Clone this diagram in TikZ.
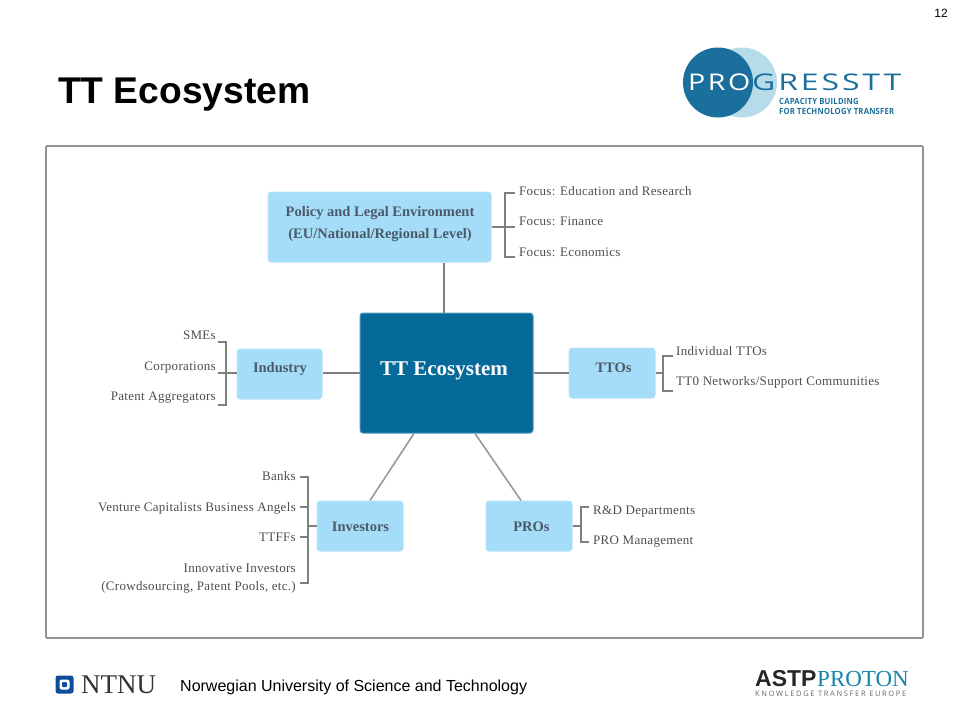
\documentclass[tikz,border=0pt]{standalone}
\usepackage{graphicx}
\usepackage{fontspec}
\setmainfont{Liberation Serif}
\newfontfamily\arialfont{Liberation Sans}
\newfontfamily\labelfont[LetterSpace=2.4]{Liberation Serif}
\newfontfamily\logofont[LetterSpace=9]{Open Sans}
\newfontfamily\smallogofont[LetterSpace=3]{Open Sans}
\newfontfamily\knowfont[LetterSpace=22]{Open Sans}
\definecolor{boxblue}{HTML}{A5DCF8}
\definecolor{hubblue}{HTML}{05699A}
\definecolor{boxtext}{HTML}{4A5A68}
\definecolor{labeltext}{HTML}{4D4D4D}
\definecolor{linegrey}{HTML}{7F7F7F}
\definecolor{logoblue}{HTML}{1B6F9C}
\definecolor{logolight}{HTML}{B7DCE9}
\definecolor{ntnublue}{HTML}{0F4C9A}
\tikzset{
  topicbox/.style={shape=rectangle, rounded corners=3pt, fill=boxblue, draw=boxblue!80!white, line width=1pt, inner sep=0pt},
  topictext/.style={font=\fontsize{14.5}{22}\selectfont\bfseries, text=boxtext, align=center, inner sep=0pt},
  itemlabel/.style={inner sep=0pt, font=\labelfont\fontsize{13}{18}\selectfont, text=labeltext, text height=10pt, text depth=2pt},
  hubline/.style={line width=1.7pt, draw=linegrey},
  spokeline/.style={line width=1.6pt, draw=linegrey!80!white}
}
\begin{document}
\begin{tikzpicture}[x=1pt, y=-1pt]
\useasboundingbox (0,0) rectangle (960,720);
\node[inner sep=0pt, font=\arialfont\fontsize{12}{14}\selectfont] (pagenum) at (941,13) {12};
\node[inner sep=0pt, anchor=west, font=\arialfont\bfseries\fontsize{37.2}{40}\selectfont] (title) at (58,95) {TT Ecosystem};
\node[shape=rectangle, draw=linegrey!85!white, line width=1.6pt, rounded corners=1pt, minimum width=877pt, minimum height=492pt, inner sep=0pt] (frame) at (484.5,392) {};
% logo top right
\node[shape=circle, fill=logolight, minimum size=70pt, inner sep=0pt] (progback) at (742,82.5) {};
\node[shape=circle, fill=logoblue, minimum size=70pt, inner sep=0pt] (progfront) at (718,82.5) {};
\node[inner sep=0pt, anchor=west, text=white, font=\logofont\fontsize{23}{25}\selectfont] (progpro) at (688,82.5) {\scalebox{1.24}[1]{PRO}};
\node[inner sep=0pt, anchor=west, text=logoblue, font=\logofont\fontsize{23}{25}\selectfont] (proggress) at (752,82.5) {\scalebox{1.39}[1]{GRESSTT}};
\node[inner sep=0pt, anchor=west, text=logoblue, font=\smallogofont\bfseries\fontsize{8.5}{10}\selectfont] (progcap) at (779,101.5) {\scalebox{.9}[1]{CAPACITY BUILDING}};
\node[inner sep=0pt, anchor=west, text=logoblue, font=\smallogofont\bfseries\fontsize{8.5}{10}\selectfont] (progfor) at (779,111) {\scalebox{.9}[1]{FOR TECHNOLOGY TRANSFER}};
% boxes
\node[shape=rectangle, rounded corners=3pt, fill=hubblue, draw=hubblue!70!white, line width=1pt, minimum width=173pt, minimum height=120pt, inner sep=0pt] (hub) at (446.5,373) {};
\node[inner sep=0pt, text=white, font=\fontsize{21}{26}\selectfont\bfseries] (hubtext) at (444,370.5) {TT Ecosystem};
\node[topicbox, minimum width=223pt, minimum height=70pt] (policy) at (379.5,227) {};
\node[topictext] (policytext) at (380,224.5) {Policy and Legal Environment\\(EU/National/Regional Level)};
\node[topicbox, minimum width=85pt, minimum height=50pt] (industry) at (279.5,374) {};
\node[topictext] (industrytext) at (280,369) {Industry};
\node[topicbox, minimum width=86pt, minimum height=50pt] (ttos) at (612,373) {};
\node[topictext] (ttostext) at (613.5,367.5) {TTOs};
\node[topicbox, minimum width=86pt, minimum height=50pt] (investors) at (360,526) {};
\node[topictext] (investorstext) at (360.5,527) {Investors};
\node[topicbox, minimum width=86pt, minimum height=50pt] (pros) at (529,526) {};
\node[topictext] (prostext) at (531.5,527) {PROs};
% labels
\node[itemlabel, anchor=west] (focusa) at (519,191) {Focus: Education and Research};
\node[itemlabel, anchor=west] (focusb) at (519,221) {Focus: Finance};
\node[itemlabel, anchor=west] (focusc) at (519,252) {Focus: Economics};
\node[itemlabel, anchor=east] (smes) at (216,335) {SMEs};
\node[itemlabel, anchor=east] (corps) at (216,366) {Corporations};
\node[itemlabel, anchor=east] (patents) at (216,396) {Patent Aggregators};
\node[itemlabel, anchor=west] (indiv) at (676,351) {Individual TTOs};
\node[itemlabel, anchor=west] (networks) at (676,381) {TT0 Networks/Support Communities};
\node[itemlabel, anchor=west] (rnd) at (593,510) {R\&D Departments};
\node[itemlabel, anchor=west] (promgmt) at (593,540) {PRO Management};
\node[itemlabel, anchor=east] (banks) at (296,476) {Banks};
\node[itemlabel, anchor=east] (venture) at (296,507) {Venture Capitalists Business Angels};
\node[itemlabel, anchor=east] (ttffs) at (296,537) {TTFFs};
\node[itemlabel, anchor=east] (innova) at (296,568) {Innovative Investors};
\node[itemlabel, anchor=east] (innovb) at (296,586) {(Crowdsourcing, Patent Pools, etc.)};
% bracket ends
\coordinate (poltop) at (515,193);
\coordinate (polmid) at (515,227);
\coordinate (polbot) at (515,257);
\coordinate (indtop) at (218,342);
\coordinate (indmid) at (218,373);
\coordinate (indbot) at (218,405);
\coordinate (ttotop) at (673,356);
\coordinate (ttomid) at (663,373);
\coordinate (ttobot) at (673,391);
\coordinate (protop) at (589,507);
\coordinate (promid) at (581,526);
\coordinate (probot) at (589,542);
\coordinate (invtop) at (300,477);
\coordinate (invb) at (300,507);
\coordinate (invmid) at (308,526);
\coordinate (invc) at (300,537);
\coordinate (invbot) at (300,583);
% connectors
\path [-, hubline] ([xshift=-2.5pt]hub.north) edge ([xshift=64.5pt]policy.south);
\path [-, hubline] (hub.west) edge (indmid -| industry.east);
\path [-, hubline] (hub.east) edge (ttos.west);
\path [-, spokeline] ([xshift=-32.5pt]hub.south) edge ([xshift=10pt]investors.north);
\path [-, spokeline] ([xshift=28.5pt]hub.south) edge ([xshift=-8pt]pros.north);
\path [-, hubline] (policy.east) edge (polmid);
\draw [hubline] (poltop) -- ++(-10,0) |- (polbot);
\path [-, hubline] (indmid -| industry.west) edge (indmid);
\draw [hubline] (indtop) -- ++(8,0) |- (indbot);
\path [-, hubline] (ttos.east) edge (ttomid);
\draw [hubline] (ttotop) -- ++(-10,0) |- (ttobot);
\path [-, hubline] (pros.east) edge (promid);
\draw [hubline] (protop) -- ++(-8,0) |- (probot);
\path [-, hubline] (investors.west) edge (invmid);
\draw [hubline] (invtop) -- ++(8,0) |- (invbot);
\path [-, hubline] (invb) edge ++(8,0);
\path [-, hubline] (invc) edge ++(8,0);
% footer
\node[shape=rectangle, rounded corners=2.5pt, fill=ntnublue, minimum size=18pt, inner sep=0pt] (ntnusquare) at (64.5,684.5) {};
\node[shape=rectangle, rounded corners=2pt, fill=white, minimum size=10pt, inner sep=0pt] (ntnuring) at (64.5,684.5) {};
\node[shape=rectangle, rounded corners=1pt, fill=ntnublue, minimum size=5pt, inner sep=0pt] (ntnudot) at (64.5,684.5) {};
\node[inner sep=0pt, anchor=west, text=black!80, font=\fontsize{27}{30}\selectfont] (ntnu) at (81,685) {NTNU};
\node[inner sep=0pt, anchor=west, font=\arialfont\fontsize{16}{18}\selectfont] (uni) at (180,687) {Norwegian University of Science and Technology};
\node[inner sep=0pt, anchor=west, text=black!85, font=\arialfont\bfseries\fontsize{23}{24}\selectfont] (astp) at (755,679) {ASTP};
\node[inner sep=0pt, anchor=west, text=logoblue!85!cyan, font=\fontsize{23}{24}\selectfont] (proton) at (817,679) {PROTON};
\node[inner sep=0pt, anchor=west, text=black!60, font=\knowfont\fontsize{7.5}{9}\selectfont] (know) at (755,694) {KNOWLEDGE TRANSFER EUROPE};
\node[shape=circle, fill=black!50, minimum size=1pt, inner sep=0pt] (protondot) at (911,668) {};
\end{tikzpicture}
\end{document}
